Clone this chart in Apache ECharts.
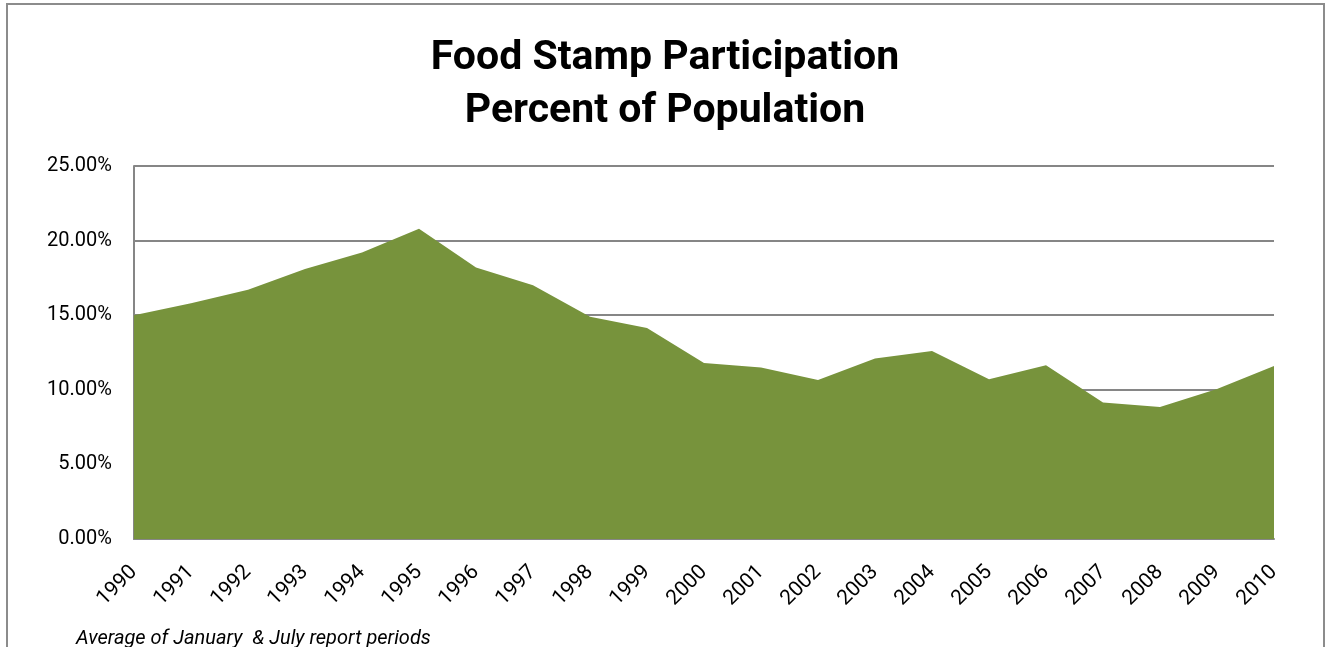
<!DOCTYPE html>
<html>
<head>
<meta charset="utf-8">
<script src="https://cdn.jsdelivr.net/npm/echarts@6/dist/echarts.min.js"></script>
<style>
html,body{margin:0;padding:0;background:#fff;}
#chart{width:1330px;height:647px;}
</style>
</head>
<body>
<div id="chart"></div>
<script>
const titleText = 'Food Stamp Participation\nPercent of Population';
const footnote = 'Average of January  & July report periods';
const years = ['1990','1991','1992','1993','1994','1995','1996','1997','1998','1999','2000','2001','2002','2003','2004','2005','2006','2007','2008','2009','2010'];
const participationPct = [15.0,15.8,16.7,18.1,19.2,20.8,18.2,17.0,14.9,14.15,11.8,11.5,10.65,12.1,12.6,10.7,11.65,9.15,8.85,10.05,11.6];
const yMin = 0, yMax = 25, yStep = 5;

const chart = echarts.init(document.getElementById('chart'), null, {renderer:'canvas'});
const FONT = 'Roboto, "Noto Sans", sans-serif';
chart.setOption({
  animation:false,
  backgroundColor:'#fff',
  title:{
    text:titleText,
    left:'center',
    top:27,
    textStyle:{fontFamily:FONT,fontWeight:'bold',fontSize:41,lineHeight:53,color:'#000'}
  },
  graphic:[
    {type:'rect',shape:{x:7,y:4,width:1317,height:700},style:{fill:'none',stroke:'#8c8c8c',lineWidth:2},silent:true},
    {type:'text',left:76,top:629,style:{text:footnote,fontFamily:FONT,fontStyle:'italic',fontSize:20,fill:'#000'}}
  ],
  grid:{left:134,right:56,top:166,bottom:108,containLabel:false},
  xAxis:{
    type:'category',
    data:years,
    boundaryGap:false,
    axisLine:{show:true,lineStyle:{color:'#868686',width:2}},
    axisTick:{show:false},
    axisLabel:{rotate:45,margin:30,fontFamily:FONT,fontSize:21,color:'#000',interval:0}
  },
  yAxis:{
    type:'value',
    min:yMin,max:yMax,interval:yStep,
    axisLine:{show:true,lineStyle:{color:'#868686',width:2}},
    axisTick:{show:false},
    splitLine:{show:true,lineStyle:{color:'#868686',width:2}},
    axisLabel:{margin:22,fontFamily:FONT,fontSize:20,color:'#000',formatter:v=>v.toFixed(2)+'%'}
  },
  series:[{
    type:'line',
    data:participationPct,
    showSymbol:false,
    symbol:'none',
    lineStyle:{width:0,color:'#77933C'},
    itemStyle:{color:'#77933C'},
    areaStyle:{color:'#77933C',opacity:1}
  }]
});
</script>
</body>
</html>
